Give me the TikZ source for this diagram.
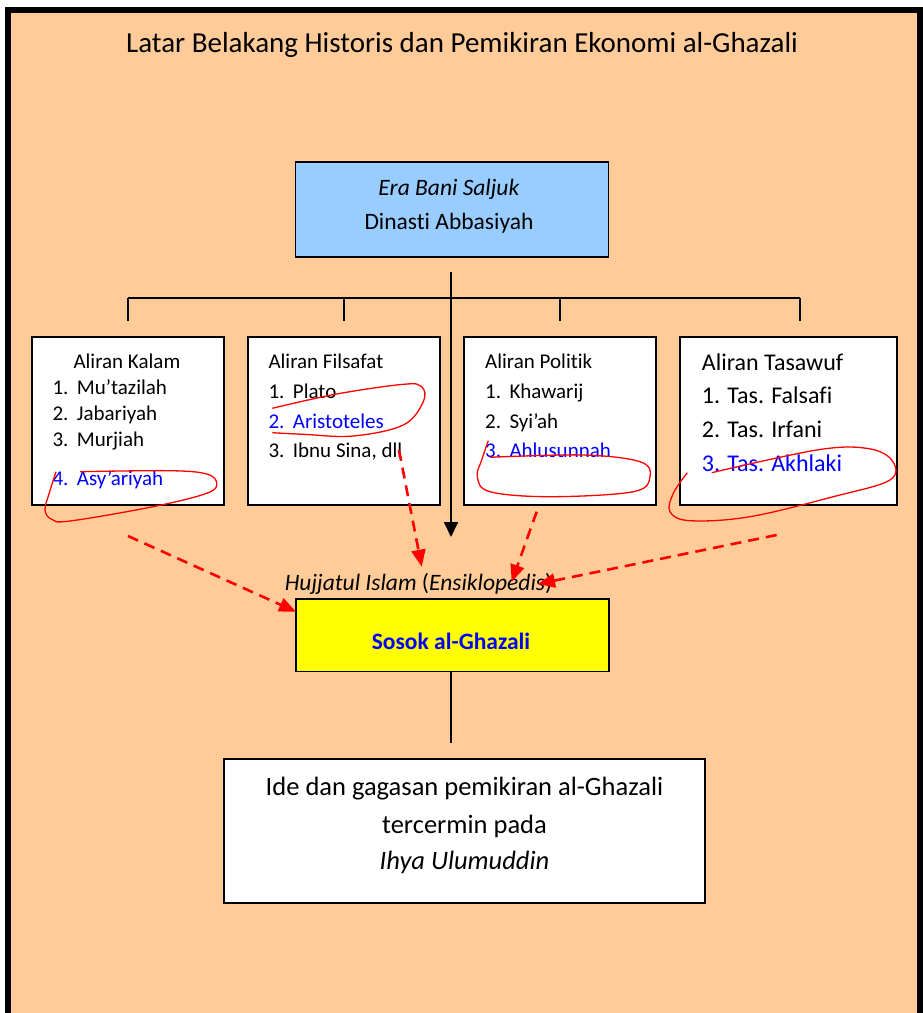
\documentclass[tikz,border=0pt]{standalone}
\usepackage{fontspec}
\setmainfont{Carlito}[Ligatures=NoCommon]
\usetikzlibrary{arrows.meta}
\usetikzlibrary{positioning}

\definecolor{peach}{HTML}{FFCC99}
\definecolor{erablue}{HTML}{99CCFF}
\definecolor{sosokyellow}{HTML}{FFFF00}
\definecolor{listblue}{HTML}{0000FF}

\newcommand{\fs}[1]{\fontsize{#1}{#1}\selectfont}

\begin{document}
\begin{tikzpicture}[x=1pt,y=-1pt,
  box/.style={draw=black,line width=1.6pt,minimum width=192pt,minimum height=168pt,inner sep=0pt},
  item/.style={anchor=base west,inner sep=0pt,font=\fs{21}},
  bigitem/.style={anchor=base west,inner sep=0pt,font=\fs{24}},
  scribble/.style={red,line width=1.3pt},
  redarrow/.style={red,line width=2.6pt,dash pattern=on 11pt off 7pt,-{Triangle[length=17pt,width=14pt]}},
  tree/.style={black,line width=1.8pt}]
\useasboundingbox (0,0) rectangle (923,1013);
\clip (0,0) rectangle (923,1013);
\fill[white] (0,0) rectangle (923,1013);
\draw[fill=peach,line width=6pt] (8,10) rectangle (920,1060);

\node[inner sep=0pt,anchor=base,font=\fs{29}] (title) at (462,52) {Latar Belakang Historis dan Pemikiran Ekonomi al-Ghazali};

% era
\node[box,fill=erablue,minimum width=313pt,minimum height=95pt] (era) at (452,209.5) {};
\node[inner sep=0pt,anchor=base,font=\fs{23.5}] (eraA) at (449,195) {\textit{Era Bani Saljuk}};
\node[inner sep=0pt,anchor=base,font=\fs{23.5}] (eraB) at (449,229) {Dinasti Abbasiyah};

% tree
\coordinate (hub) at (451,272);
\coordinate (hubbar) at (451,297.7);
\coordinate (barL) at (128,297.7);
\coordinate (barR) at (800,297.7);
\coordinate (tickA) at (128,321);
\coordinate (tickB) at (344,321);
\coordinate (tickC) at (560,321);
\coordinate (tickD) at (800,321);
\coordinate (hubtip) at (451,537);
\draw[tree] (barL) -- (barR);
\draw[tree] (barL) -- (tickA);
\draw[tree] (tickB|-barL) -- (tickB);
\draw[tree] (tickC|-barL) -- (tickC);
\draw[tree] (barR) -- (tickD);

% aliran boxes
\node[box,fill=white] (kalam) at (128,421) {};
\node[box,fill=white] (filsafat) at (344,421) {};
\node[box,fill=white] (politik) at (560,421) {};
\node[box,fill=white,minimum width=217pt] (tasawuf) at (788.5,421) {};

\draw[tree,line width=2pt,-{Triangle[length=15pt,width=14pt]}] (hub) -- (hubtip);

\node[item] (kalamT) at (73.3,368.3) {Aliran Kalam};
\node[item] (kalam1) at (52.3,394) {1.};
\node[item] at (76.7,394) {Mu’tazilah};
\node[item] (kalam2) at (52.3,420) {2.};
\node[item] at (76.7,420) {Jabariyah};
\node[item] (kalam3) at (52.3,446) {3.};
\node[item] at (76.7,446) {Murjiah};
\node[item,listblue] (kalam4) at (52.3,485) {4.};
\node[item,listblue] at (76.7,485) {Asy’ariyah};

\node[item] (filsafatT) at (268.3,368.3) {Aliran Filsafat};
\node[item] (filsafat1) at (268.3,398.3) {1.};
\node[item] at (292.7,398.3) {Plato};
\node[item,listblue] (filsafat2) at (268.3,428.3) {2.};
\node[item,listblue] at (292.7,428.3) {Aristoteles};
\node[item] (filsafat3) at (268.3,457.7) {3.};
\node[item] (dll) at (292.7,457.7) {Ibnu Sina, dll};

\node[item] (politikT) at (485,368.3) {Aliran Politik};
\node[item] (politik1) at (485,398.3) {1.};
\node[item] at (509.3,398.3) {Khawarij};
\node[item] (politik2) at (485,428.3) {2.};
\node[item] at (509.3,428.3) {Syi’ah};
\node[item,listblue] (politik3) at (485,457.7) {3.};
\node[item,listblue] at (509.3,457.7) {Ahlusunnah};

\node[bigitem] (tasawufT) at (701.7,370) {Aliran Tasawuf};
\node[bigitem] (tasawuf1) at (701.7,403.3) {1. Tas. Falsafi};
\node[bigitem] (tasawuf2) at (701.7,437.3) {2. Tas. Irfani};
\node[bigitem,listblue] (tasawuf3) at (701.7,471.7) {3. Tas. Akhlaki};

% scribbles
\draw[scribble] plot[smooth,tension=0.6] coordinates {(56,471.7) (49.3,493) (45,510) (51.7,519.3) (70,521) (153,506.7) (206.7,493.3) (216.7,483.3) (206.7,474) (170,470.7) (80,471.7)};
\draw[scribble] plot[smooth,tension=0.6] coordinates {(272.3,408.3) (336.7,394) (403.3,384.3) (421.7,386.7) (423.3,401.7) (403.3,425) (353.3,436) (303.3,434.3) (272.3,432.7)};
\draw[scribble] plot[smooth,tension=0.6] coordinates {(488.3,440.7) (481.7,460) (477.3,476.7) (490,491.7) (550,496.7) (633.3,491.7) (650,476.7) (640,461.7) (583.3,455) (490,457.3)};
\draw[scribble] plot[smooth,tension=0.6] coordinates {(687.3,472.7) (673.3,493.3) (670,511.7) (690,520.7) (750,516.7) (833.3,496.7) (890,480) (891.7,460) (866.7,448.3) (816.7,450) (711.7,472.7)};

% sosok
\node[inner sep=0pt,anchor=base,font=\fs{23.5}] (hujjah) at (418.5,590) {\textit{Hujjatul Islam} (\textit{Ensiklopedis})};
\node[box,fill=sosokyellow,minimum width=313pt,minimum height=72.5pt] (sosok) at (452.5,635.3) {};
\node[inner sep=0pt,font=\fs{23.5}\bfseries,text=listblue] (sosokT) at (451,641.7) {Sosok al-Ghazali};

\coordinate (kalamOut) at (128,536);
\coordinate (dllOut) at (399,450);
\coordinate (politikOut) at (536.7,511.7);
\coordinate (tasawufOut) at (776.6,535);
\coordinate (sosokIn) at (296,611.7);
\coordinate (hujjahA) at (421.7,566.7);
\coordinate (hujjahB) at (511.7,581.7);
\coordinate (hujjahC) at (538,584);
\draw[redarrow] (kalamOut) -- (sosokIn);
\draw[redarrow] (dllOut) -- (hujjahA);
\draw[redarrow] (politikOut) -- (hujjahB);
\draw[redarrow] (tasawufOut) -- (hujjahC);

% ide
\coordinate (ideIn) at (451,743);
\draw[black,line width=1.6pt] (sosok.south-|sosokT) -- (ideIn);
\node[box,fill=white,minimum width=481pt,minimum height=144pt] (ide) at (464.4,830.8) {};
\node[inner sep=0pt,anchor=base,font=\fs{26.5}] (ide1) at (464.5,795) {Ide dan gagasan pemikiran al-Ghazali};
\node[inner sep=0pt,anchor=base,font=\fs{26.5}] (ide2) at (464.5,833) {tercermin pada};
\node[inner sep=0pt,anchor=base,font=\fs{26.5}] (ide3) at (464.5,869.3) {\textit{Ihya Ulumuddin}};
\end{tikzpicture}
\end{document}
